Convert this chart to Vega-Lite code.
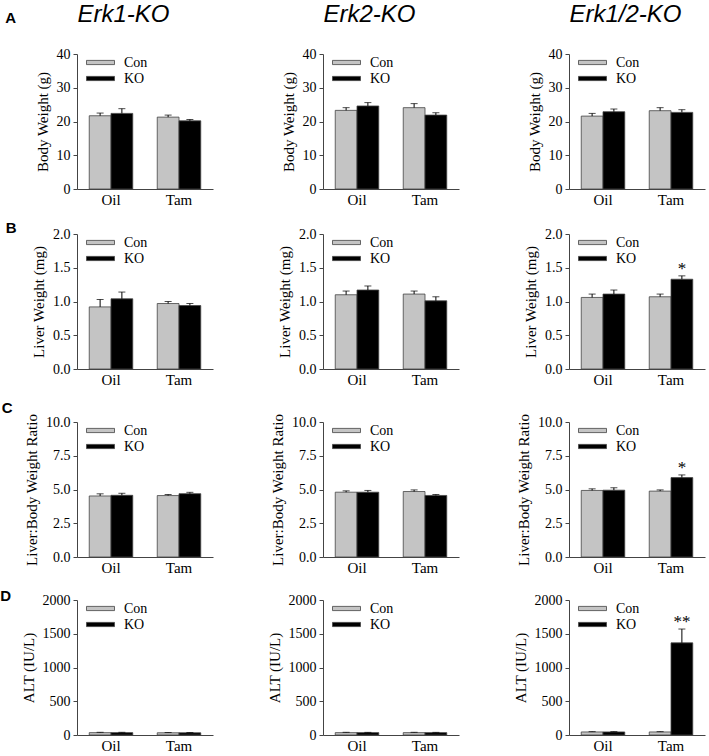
{
  "$schema": "https://vega.github.io/schema/vega-lite/v6.json",
  "padding": {"left": 0, "top": 2, "right": 2, "bottom": 0},
  "background": "white",
  "datasets": {
    "d": [
      {"p": "a1", "t": "Oil", "g": "Con", "v": 21.7, "u": 22.5, "s": ""},
      {"p": "a1", "t": "Oil", "g": "KO", "v": 22.4, "u": 23.8, "s": ""},
      {"p": "a1", "t": "Tam", "g": "Con", "v": 21.3, "u": 21.9, "s": ""},
      {"p": "a1", "t": "Tam", "g": "KO", "v": 20.2, "u": 20.6, "s": ""},
      {"p": "a2", "t": "Oil", "g": "Con", "v": 23.3, "u": 24.1, "s": ""},
      {"p": "a2", "t": "Oil", "g": "KO", "v": 24.6, "u": 25.6, "s": ""},
      {"p": "a2", "t": "Tam", "g": "Con", "v": 24.1, "u": 25.3, "s": ""},
      {"p": "a2", "t": "Tam", "g": "KO", "v": 21.9, "u": 22.6, "s": ""},
      {"p": "a3", "t": "Oil", "g": "Con", "v": 21.6, "u": 22.4, "s": ""},
      {"p": "a3", "t": "Oil", "g": "KO", "v": 22.9, "u": 23.7, "s": ""},
      {"p": "a3", "t": "Tam", "g": "Con", "v": 23.2, "u": 24.1, "s": ""},
      {"p": "a3", "t": "Tam", "g": "KO", "v": 22.7, "u": 23.5, "s": ""},
      {"p": "b1", "t": "Oil", "g": "Con", "v": 0.92, "u": 1.03, "s": ""},
      {"p": "b1", "t": "Oil", "g": "KO", "v": 1.04, "u": 1.14, "s": ""},
      {"p": "b1", "t": "Tam", "g": "Con", "v": 0.97, "u": 1.0, "s": ""},
      {"p": "b1", "t": "Tam", "g": "KO", "v": 0.94, "u": 0.97, "s": ""},
      {"p": "b2", "t": "Oil", "g": "Con", "v": 1.1, "u": 1.155, "s": ""},
      {"p": "b2", "t": "Oil", "g": "KO", "v": 1.17, "u": 1.23, "s": ""},
      {"p": "b2", "t": "Tam", "g": "Con", "v": 1.11, "u": 1.155, "s": ""},
      {"p": "b2", "t": "Tam", "g": "KO", "v": 1.01, "u": 1.07, "s": ""},
      {"p": "b3", "t": "Oil", "g": "Con", "v": 1.06, "u": 1.11, "s": ""},
      {"p": "b3", "t": "Oil", "g": "KO", "v": 1.11, "u": 1.17, "s": ""},
      {"p": "b3", "t": "Tam", "g": "Con", "v": 1.07, "u": 1.11, "s": ""},
      {"p": "b3", "t": "Tam", "g": "KO", "v": 1.33, "u": 1.38, "s": "*"},
      {"p": "c1", "t": "Oil", "g": "Con", "v": 4.52, "u": 4.68, "s": ""},
      {"p": "c1", "t": "Oil", "g": "KO", "v": 4.57, "u": 4.72, "s": ""},
      {"p": "c1", "t": "Tam", "g": "Con", "v": 4.55, "u": 4.63, "s": ""},
      {"p": "c1", "t": "Tam", "g": "KO", "v": 4.69, "u": 4.79, "s": ""},
      {"p": "c2", "t": "Oil", "g": "Con", "v": 4.8, "u": 4.9, "s": ""},
      {"p": "c2", "t": "Oil", "g": "KO", "v": 4.8, "u": 4.93, "s": ""},
      {"p": "c2", "t": "Tam", "g": "Con", "v": 4.85, "u": 4.97, "s": ""},
      {"p": "c2", "t": "Tam", "g": "KO", "v": 4.56, "u": 4.63, "s": ""},
      {"p": "c3", "t": "Oil", "g": "Con", "v": 4.93, "u": 5.05, "s": ""},
      {"p": "c3", "t": "Oil", "g": "KO", "v": 4.95, "u": 5.13, "s": ""},
      {"p": "c3", "t": "Tam", "g": "Con", "v": 4.88, "u": 4.97, "s": ""},
      {"p": "c3", "t": "Tam", "g": "KO", "v": 5.88, "u": 6.08, "s": "*"},
      {"p": "d1", "t": "Oil", "g": "Con", "v": 35, "u": 40, "s": ""},
      {"p": "d1", "t": "Oil", "g": "KO", "v": 35, "u": 40, "s": ""},
      {"p": "d1", "t": "Tam", "g": "Con", "v": 33, "u": 37, "s": ""},
      {"p": "d1", "t": "Tam", "g": "KO", "v": 33, "u": 37, "s": ""},
      {"p": "d2", "t": "Oil", "g": "Con", "v": 35, "u": 40, "s": ""},
      {"p": "d2", "t": "Oil", "g": "KO", "v": 35, "u": 39, "s": ""},
      {"p": "d2", "t": "Tam", "g": "Con", "v": 35, "u": 40, "s": ""},
      {"p": "d2", "t": "Tam", "g": "KO", "v": 35, "u": 39, "s": ""},
      {"p": "d3", "t": "Oil", "g": "Con", "v": 45, "u": 50, "s": ""},
      {"p": "d3", "t": "Oil", "g": "KO", "v": 45, "u": 50, "s": ""},
      {"p": "d3", "t": "Tam", "g": "Con", "v": 45, "u": 50, "s": ""},
      {"p": "d3", "t": "Tam", "g": "KO", "v": 1365, "u": 1570, "s": "**"}
    ]
  },
  "data": {"name": "d"},
  "columns": 3,
  "spacing": {"row": 14, "column": 54},
  "resolve": {"scale": {"color": "independent"}, "legend": {"color": "independent"}},
  "concat": [
    {
      "width": 136, "height": 135,
      "title": {"text": "A", "dy": -43, "dx": -9},
      "transform": [{"filter": {"field": "p", "equal": "a1"}}],
      "layer": [
        {"mark": "bar", "encoding": {
          "x": {"field": "t", "type": "nominal", "sort": ["Oil", "Tam"], "scale": {"paddingInner": 0.36, "paddingOuter": 0.18}, "axis": {"orient": "bottom", "title": null}},
          "xOffset": {"field": "g", "type": "nominal", "sort": ["Con", "KO"]},
          "y": {"field": "v", "type": "quantitative", "scale": {"domain": [0, 40], "nice": false}, "axis": {"values": [0, 10, 20, 30, 40], "labelOverlap": false, "title": "Body Weight (g)"}},
          "color": {"field": "g", "type": "nominal", "scale": {"domain": ["Con", "KO"], "range": ["#c4c4c4", "#000000"]}, "legend": {"orient": "none", "legendX": 16, "legendY": 1}}}},
        {"mark": "rule", "encoding": {
          "x": {"field": "t", "type": "nominal", "sort": ["Oil", "Tam"], "axis": null},
          "xOffset": {"field": "g", "type": "nominal", "sort": ["Con", "KO"]},
          "y": {"field": "v", "type": "quantitative", "axis": {"values": [0, 10, 20, 30, 40], "labelOverlap": false, "title": "Body Weight (g)"}}, "y2": {"field": "u"}}},
        {"mark": "tick", "encoding": {
          "x": {"field": "t", "type": "nominal", "sort": ["Oil", "Tam"], "axis": null},
          "xOffset": {"field": "g", "type": "nominal", "sort": ["Con", "KO"]},
          "y": {"field": "u", "type": "quantitative", "axis": {"values": [0, 10, 20, 30, 40], "labelOverlap": false, "title": "Body Weight (g)"}}}},
        {"mark": "text", "encoding": {
          "x": {"field": "t", "type": "nominal", "sort": ["Oil", "Tam"], "axis": {"orient": "top", "title": "Erk1-KO", "labels": false, "ticks": false, "domain": false, "titleFont": "Liberation Sans", "titleFontSize": 24, "titleFontStyle": "italic", "titlePadding": 28, "titleAnchor": "start", "titleAlign": "left"}},
          "xOffset": {"field": "g", "type": "nominal", "sort": ["Con", "KO"]},
          "y": {"field": "u", "type": "quantitative", "axis": {"values": [0, 10, 20, 30, 40], "labelOverlap": false, "title": "Body Weight (g)"}}, "text": {"field": "s"}}}
      ]
    },
    {
      "width": 136, "height": 135,
      "transform": [{"filter": {"field": "p", "equal": "a2"}}],
      "layer": [
        {"mark": "bar", "encoding": {
          "x": {"field": "t", "type": "nominal", "sort": ["Oil", "Tam"], "scale": {"paddingInner": 0.36, "paddingOuter": 0.18}, "axis": {"orient": "bottom", "title": null}},
          "xOffset": {"field": "g", "type": "nominal", "sort": ["Con", "KO"]},
          "y": {"field": "v", "type": "quantitative", "scale": {"domain": [0, 40], "nice": false}, "axis": {"values": [0, 10, 20, 30, 40], "labelOverlap": false, "title": "Body Weight (g)"}},
          "color": {"field": "g", "type": "nominal", "scale": {"domain": ["Con", "KO"], "range": ["#c4c4c4", "#000000"]}, "legend": {"orient": "none", "legendX": 16, "legendY": 1}}}},
        {"mark": "rule", "encoding": {
          "x": {"field": "t", "type": "nominal", "sort": ["Oil", "Tam"], "axis": null},
          "xOffset": {"field": "g", "type": "nominal", "sort": ["Con", "KO"]},
          "y": {"field": "v", "type": "quantitative", "axis": {"values": [0, 10, 20, 30, 40], "labelOverlap": false, "title": "Body Weight (g)"}}, "y2": {"field": "u"}}},
        {"mark": "tick", "encoding": {
          "x": {"field": "t", "type": "nominal", "sort": ["Oil", "Tam"], "axis": null},
          "xOffset": {"field": "g", "type": "nominal", "sort": ["Con", "KO"]},
          "y": {"field": "u", "type": "quantitative", "axis": {"values": [0, 10, 20, 30, 40], "labelOverlap": false, "title": "Body Weight (g)"}}}},
        {"mark": "text", "encoding": {
          "x": {"field": "t", "type": "nominal", "sort": ["Oil", "Tam"], "axis": {"orient": "top", "title": "Erk2-KO", "labels": false, "ticks": false, "domain": false, "titleFont": "Liberation Sans", "titleFontSize": 24, "titleFontStyle": "italic", "titlePadding": 28, "titleAnchor": "start", "titleAlign": "left"}},
          "xOffset": {"field": "g", "type": "nominal", "sort": ["Con", "KO"]},
          "y": {"field": "u", "type": "quantitative", "axis": {"values": [0, 10, 20, 30, 40], "labelOverlap": false, "title": "Body Weight (g)"}}, "text": {"field": "s"}}}
      ]
    },
    {
      "width": 136, "height": 135,
      "transform": [{"filter": {"field": "p", "equal": "a3"}}],
      "layer": [
        {"mark": "bar", "encoding": {
          "x": {"field": "t", "type": "nominal", "sort": ["Oil", "Tam"], "scale": {"paddingInner": 0.36, "paddingOuter": 0.18}, "axis": {"orient": "bottom", "title": null}},
          "xOffset": {"field": "g", "type": "nominal", "sort": ["Con", "KO"]},
          "y": {"field": "v", "type": "quantitative", "scale": {"domain": [0, 40], "nice": false}, "axis": {"values": [0, 10, 20, 30, 40], "labelOverlap": false, "title": "Body Weight (g)"}},
          "color": {"field": "g", "type": "nominal", "scale": {"domain": ["Con", "KO"], "range": ["#c4c4c4", "#000000"]}, "legend": {"orient": "none", "legendX": 16, "legendY": 1}}}},
        {"mark": "rule", "encoding": {
          "x": {"field": "t", "type": "nominal", "sort": ["Oil", "Tam"], "axis": null},
          "xOffset": {"field": "g", "type": "nominal", "sort": ["Con", "KO"]},
          "y": {"field": "v", "type": "quantitative", "axis": {"values": [0, 10, 20, 30, 40], "labelOverlap": false, "title": "Body Weight (g)"}}, "y2": {"field": "u"}}},
        {"mark": "tick", "encoding": {
          "x": {"field": "t", "type": "nominal", "sort": ["Oil", "Tam"], "axis": null},
          "xOffset": {"field": "g", "type": "nominal", "sort": ["Con", "KO"]},
          "y": {"field": "u", "type": "quantitative", "axis": {"values": [0, 10, 20, 30, 40], "labelOverlap": false, "title": "Body Weight (g)"}}}},
        {"mark": "text", "encoding": {
          "x": {"field": "t", "type": "nominal", "sort": ["Oil", "Tam"], "axis": {"orient": "top", "title": "Erk1/2-KO", "labels": false, "ticks": false, "domain": false, "titleFont": "Liberation Sans", "titleFontSize": 24, "titleFontStyle": "italic", "titlePadding": 28, "titleAnchor": "start", "titleAlign": "left"}},
          "xOffset": {"field": "g", "type": "nominal", "sort": ["Con", "KO"]},
          "y": {"field": "u", "type": "quantitative", "axis": {"values": [0, 10, 20, 30, 40], "labelOverlap": false, "title": "Body Weight (g)"}}, "text": {"field": "s"}}}
      ]
    },
    {
      "width": 136, "height": 135,
      "title": {"text": "B", "dy": -13, "dx": -5},
      "transform": [{"filter": {"field": "p", "equal": "b1"}}],
      "layer": [
        {"mark": "bar", "encoding": {
          "x": {"field": "t", "type": "nominal", "sort": ["Oil", "Tam"], "scale": {"paddingInner": 0.36, "paddingOuter": 0.18}, "axis": {"title": null}},
          "xOffset": {"field": "g", "type": "nominal", "sort": ["Con", "KO"]},
          "y": {"field": "v", "type": "quantitative", "scale": {"domain": [0, 2], "nice": false}, "axis": {"values": [0, 0.5, 1, 1.5, 2], "format": ".1f", "labelOverlap": false, "title": "Liver Weight (mg)"}},
          "color": {"field": "g", "type": "nominal", "scale": {"domain": ["Con", "KO"], "range": ["#c4c4c4", "#000000"]}, "legend": {"orient": "none", "legendX": 16, "legendY": 1}}}},
        {"mark": "rule", "encoding": {
          "x": {"field": "t", "type": "nominal", "sort": ["Oil", "Tam"], "axis": {"title": null}},
          "xOffset": {"field": "g", "type": "nominal", "sort": ["Con", "KO"]},
          "y": {"field": "v", "type": "quantitative", "axis": {"values": [0, 0.5, 1, 1.5, 2], "format": ".1f", "labelOverlap": false, "title": "Liver Weight (mg)"}}, "y2": {"field": "u"}}},
        {"mark": "tick", "encoding": {
          "x": {"field": "t", "type": "nominal", "sort": ["Oil", "Tam"], "axis": {"title": null}},
          "xOffset": {"field": "g", "type": "nominal", "sort": ["Con", "KO"]},
          "y": {"field": "u", "type": "quantitative", "axis": {"values": [0, 0.5, 1, 1.5, 2], "format": ".1f", "labelOverlap": false, "title": "Liver Weight (mg)"}}}},
        {"mark": "text", "encoding": {
          "x": {"field": "t", "type": "nominal", "sort": ["Oil", "Tam"], "axis": {"title": null}},
          "xOffset": {"field": "g", "type": "nominal", "sort": ["Con", "KO"]},
          "y": {"field": "u", "type": "quantitative", "axis": {"values": [0, 0.5, 1, 1.5, 2], "format": ".1f", "labelOverlap": false, "title": "Liver Weight (mg)"}}, "text": {"field": "s"}}}
      ]
    },
    {
      "width": 136, "height": 135,
      "transform": [{"filter": {"field": "p", "equal": "b2"}}],
      "layer": [
        {"mark": "bar", "encoding": {
          "x": {"field": "t", "type": "nominal", "sort": ["Oil", "Tam"], "scale": {"paddingInner": 0.36, "paddingOuter": 0.18}, "axis": {"title": null}},
          "xOffset": {"field": "g", "type": "nominal", "sort": ["Con", "KO"]},
          "y": {"field": "v", "type": "quantitative", "scale": {"domain": [0, 2], "nice": false}, "axis": {"values": [0, 0.5, 1, 1.5, 2], "format": ".1f", "labelOverlap": false, "title": "Liver Weight (mg)"}},
          "color": {"field": "g", "type": "nominal", "scale": {"domain": ["Con", "KO"], "range": ["#c4c4c4", "#000000"]}, "legend": {"orient": "none", "legendX": 16, "legendY": 1}}}},
        {"mark": "rule", "encoding": {
          "x": {"field": "t", "type": "nominal", "sort": ["Oil", "Tam"], "axis": {"title": null}},
          "xOffset": {"field": "g", "type": "nominal", "sort": ["Con", "KO"]},
          "y": {"field": "v", "type": "quantitative", "axis": {"values": [0, 0.5, 1, 1.5, 2], "format": ".1f", "labelOverlap": false, "title": "Liver Weight (mg)"}}, "y2": {"field": "u"}}},
        {"mark": "tick", "encoding": {
          "x": {"field": "t", "type": "nominal", "sort": ["Oil", "Tam"], "axis": {"title": null}},
          "xOffset": {"field": "g", "type": "nominal", "sort": ["Con", "KO"]},
          "y": {"field": "u", "type": "quantitative", "axis": {"values": [0, 0.5, 1, 1.5, 2], "format": ".1f", "labelOverlap": false, "title": "Liver Weight (mg)"}}}},
        {"mark": "text", "encoding": {
          "x": {"field": "t", "type": "nominal", "sort": ["Oil", "Tam"], "axis": {"title": null}},
          "xOffset": {"field": "g", "type": "nominal", "sort": ["Con", "KO"]},
          "y": {"field": "u", "type": "quantitative", "axis": {"values": [0, 0.5, 1, 1.5, 2], "format": ".1f", "labelOverlap": false, "title": "Liver Weight (mg)"}}, "text": {"field": "s"}}}
      ]
    },
    {
      "width": 136, "height": 135,
      "transform": [{"filter": {"field": "p", "equal": "b3"}}],
      "layer": [
        {"mark": "bar", "encoding": {
          "x": {"field": "t", "type": "nominal", "sort": ["Oil", "Tam"], "scale": {"paddingInner": 0.36, "paddingOuter": 0.18}, "axis": {"title": null}},
          "xOffset": {"field": "g", "type": "nominal", "sort": ["Con", "KO"]},
          "y": {"field": "v", "type": "quantitative", "scale": {"domain": [0, 2], "nice": false}, "axis": {"values": [0, 0.5, 1, 1.5, 2], "format": ".1f", "labelOverlap": false, "title": "Liver Weight (mg)"}},
          "color": {"field": "g", "type": "nominal", "scale": {"domain": ["Con", "KO"], "range": ["#c4c4c4", "#000000"]}, "legend": {"orient": "none", "legendX": 16, "legendY": 1}}}},
        {"mark": "rule", "encoding": {
          "x": {"field": "t", "type": "nominal", "sort": ["Oil", "Tam"], "axis": {"title": null}},
          "xOffset": {"field": "g", "type": "nominal", "sort": ["Con", "KO"]},
          "y": {"field": "v", "type": "quantitative", "axis": {"values": [0, 0.5, 1, 1.5, 2], "format": ".1f", "labelOverlap": false, "title": "Liver Weight (mg)"}}, "y2": {"field": "u"}}},
        {"mark": "tick", "encoding": {
          "x": {"field": "t", "type": "nominal", "sort": ["Oil", "Tam"], "axis": {"title": null}},
          "xOffset": {"field": "g", "type": "nominal", "sort": ["Con", "KO"]},
          "y": {"field": "u", "type": "quantitative", "axis": {"values": [0, 0.5, 1, 1.5, 2], "format": ".1f", "labelOverlap": false, "title": "Liver Weight (mg)"}}}},
        {"mark": "text", "encoding": {
          "x": {"field": "t", "type": "nominal", "sort": ["Oil", "Tam"], "axis": {"title": null}},
          "xOffset": {"field": "g", "type": "nominal", "sort": ["Con", "KO"]},
          "y": {"field": "u", "type": "quantitative", "axis": {"values": [0, 0.5, 1, 1.5, 2], "format": ".1f", "labelOverlap": false, "title": "Liver Weight (mg)"}}, "text": {"field": "s"}}}
      ]
    },
    {
      "width": 136, "height": 135,
      "title": {"text": "C", "dy": -21, "dx": -2},
      "transform": [{"filter": {"field": "p", "equal": "c1"}}],
      "layer": [
        {"mark": "bar", "encoding": {
          "x": {"field": "t", "type": "nominal", "sort": ["Oil", "Tam"], "scale": {"paddingInner": 0.36, "paddingOuter": 0.18}, "axis": {"title": null}},
          "xOffset": {"field": "g", "type": "nominal", "sort": ["Con", "KO"]},
          "y": {"field": "v", "type": "quantitative", "scale": {"domain": [0, 10], "nice": false}, "axis": {"values": [0, 2.5, 5, 7.5, 10], "format": ".1f", "labelOverlap": false, "title": "Liver:Body Weight Ratio"}},
          "color": {"field": "g", "type": "nominal", "scale": {"domain": ["Con", "KO"], "range": ["#c4c4c4", "#000000"]}, "legend": {"orient": "none", "legendX": 16, "legendY": 1}}}},
        {"mark": "rule", "encoding": {
          "x": {"field": "t", "type": "nominal", "sort": ["Oil", "Tam"], "axis": {"title": null}},
          "xOffset": {"field": "g", "type": "nominal", "sort": ["Con", "KO"]},
          "y": {"field": "v", "type": "quantitative", "axis": {"values": [0, 2.5, 5, 7.5, 10], "format": ".1f", "labelOverlap": false, "title": "Liver:Body Weight Ratio"}}, "y2": {"field": "u"}}},
        {"mark": "tick", "encoding": {
          "x": {"field": "t", "type": "nominal", "sort": ["Oil", "Tam"], "axis": {"title": null}},
          "xOffset": {"field": "g", "type": "nominal", "sort": ["Con", "KO"]},
          "y": {"field": "u", "type": "quantitative", "axis": {"values": [0, 2.5, 5, 7.5, 10], "format": ".1f", "labelOverlap": false, "title": "Liver:Body Weight Ratio"}}}},
        {"mark": "text", "encoding": {
          "x": {"field": "t", "type": "nominal", "sort": ["Oil", "Tam"], "axis": {"title": null}},
          "xOffset": {"field": "g", "type": "nominal", "sort": ["Con", "KO"]},
          "y": {"field": "u", "type": "quantitative", "axis": {"values": [0, 2.5, 5, 7.5, 10], "format": ".1f", "labelOverlap": false, "title": "Liver:Body Weight Ratio"}}, "text": {"field": "s"}}}
      ]
    },
    {
      "width": 136, "height": 135,
      "transform": [{"filter": {"field": "p", "equal": "c2"}}],
      "layer": [
        {"mark": "bar", "encoding": {
          "x": {"field": "t", "type": "nominal", "sort": ["Oil", "Tam"], "scale": {"paddingInner": 0.36, "paddingOuter": 0.18}, "axis": {"title": null}},
          "xOffset": {"field": "g", "type": "nominal", "sort": ["Con", "KO"]},
          "y": {"field": "v", "type": "quantitative", "scale": {"domain": [0, 10], "nice": false}, "axis": {"values": [0, 2.5, 5, 7.5, 10], "format": ".1f", "labelOverlap": false, "title": "Liver:Body Weight Ratio"}},
          "color": {"field": "g", "type": "nominal", "scale": {"domain": ["Con", "KO"], "range": ["#c4c4c4", "#000000"]}, "legend": {"orient": "none", "legendX": 16, "legendY": 1}}}},
        {"mark": "rule", "encoding": {
          "x": {"field": "t", "type": "nominal", "sort": ["Oil", "Tam"], "axis": {"title": null}},
          "xOffset": {"field": "g", "type": "nominal", "sort": ["Con", "KO"]},
          "y": {"field": "v", "type": "quantitative", "axis": {"values": [0, 2.5, 5, 7.5, 10], "format": ".1f", "labelOverlap": false, "title": "Liver:Body Weight Ratio"}}, "y2": {"field": "u"}}},
        {"mark": "tick", "encoding": {
          "x": {"field": "t", "type": "nominal", "sort": ["Oil", "Tam"], "axis": {"title": null}},
          "xOffset": {"field": "g", "type": "nominal", "sort": ["Con", "KO"]},
          "y": {"field": "u", "type": "quantitative", "axis": {"values": [0, 2.5, 5, 7.5, 10], "format": ".1f", "labelOverlap": false, "title": "Liver:Body Weight Ratio"}}}},
        {"mark": "text", "encoding": {
          "x": {"field": "t", "type": "nominal", "sort": ["Oil", "Tam"], "axis": {"title": null}},
          "xOffset": {"field": "g", "type": "nominal", "sort": ["Con", "KO"]},
          "y": {"field": "u", "type": "quantitative", "axis": {"values": [0, 2.5, 5, 7.5, 10], "format": ".1f", "labelOverlap": false, "title": "Liver:Body Weight Ratio"}}, "text": {"field": "s"}}}
      ]
    },
    {
      "width": 136, "height": 135,
      "transform": [{"filter": {"field": "p", "equal": "c3"}}],
      "layer": [
        {"mark": "bar", "encoding": {
          "x": {"field": "t", "type": "nominal", "sort": ["Oil", "Tam"], "scale": {"paddingInner": 0.36, "paddingOuter": 0.18}, "axis": {"title": null}},
          "xOffset": {"field": "g", "type": "nominal", "sort": ["Con", "KO"]},
          "y": {"field": "v", "type": "quantitative", "scale": {"domain": [0, 10], "nice": false}, "axis": {"values": [0, 2.5, 5, 7.5, 10], "format": ".1f", "labelOverlap": false, "title": "Liver:Body Weight Ratio"}},
          "color": {"field": "g", "type": "nominal", "scale": {"domain": ["Con", "KO"], "range": ["#c4c4c4", "#000000"]}, "legend": {"orient": "none", "legendX": 16, "legendY": 1}}}},
        {"mark": "rule", "encoding": {
          "x": {"field": "t", "type": "nominal", "sort": ["Oil", "Tam"], "axis": {"title": null}},
          "xOffset": {"field": "g", "type": "nominal", "sort": ["Con", "KO"]},
          "y": {"field": "v", "type": "quantitative", "axis": {"values": [0, 2.5, 5, 7.5, 10], "format": ".1f", "labelOverlap": false, "title": "Liver:Body Weight Ratio"}}, "y2": {"field": "u"}}},
        {"mark": "tick", "encoding": {
          "x": {"field": "t", "type": "nominal", "sort": ["Oil", "Tam"], "axis": {"title": null}},
          "xOffset": {"field": "g", "type": "nominal", "sort": ["Con", "KO"]},
          "y": {"field": "u", "type": "quantitative", "axis": {"values": [0, 2.5, 5, 7.5, 10], "format": ".1f", "labelOverlap": false, "title": "Liver:Body Weight Ratio"}}}},
        {"mark": "text", "encoding": {
          "x": {"field": "t", "type": "nominal", "sort": ["Oil", "Tam"], "axis": {"title": null}},
          "xOffset": {"field": "g", "type": "nominal", "sort": ["Con", "KO"]},
          "y": {"field": "u", "type": "quantitative", "axis": {"values": [0, 2.5, 5, 7.5, 10], "format": ".1f", "labelOverlap": false, "title": "Liver:Body Weight Ratio"}}, "text": {"field": "s"}}}
      ]
    },
    {
      "width": 136, "height": 135,
      "title": {"text": "D", "dy": -11},
      "transform": [{"filter": {"field": "p", "equal": "d1"}}],
      "layer": [
        {"mark": "bar", "encoding": {
          "x": {"field": "t", "type": "nominal", "sort": ["Oil", "Tam"], "scale": {"paddingInner": 0.36, "paddingOuter": 0.18}, "axis": {"title": null}},
          "xOffset": {"field": "g", "type": "nominal", "sort": ["Con", "KO"]},
          "y": {"field": "v", "type": "quantitative", "scale": {"domain": [0, 2000], "nice": false}, "axis": {"values": [0, 500, 1000, 1500, 2000], "format": "d", "labelOverlap": false, "title": "ALT (IU/L)"}},
          "color": {"field": "g", "type": "nominal", "scale": {"domain": ["Con", "KO"], "range": ["#c4c4c4", "#000000"]}, "legend": {"orient": "none", "legendX": 16, "legendY": 1}}}},
        {"mark": "rule", "encoding": {
          "x": {"field": "t", "type": "nominal", "sort": ["Oil", "Tam"], "axis": {"title": null}},
          "xOffset": {"field": "g", "type": "nominal", "sort": ["Con", "KO"]},
          "y": {"field": "v", "type": "quantitative", "axis": {"values": [0, 500, 1000, 1500, 2000], "format": "d", "labelOverlap": false, "title": "ALT (IU/L)"}}, "y2": {"field": "u"}}},
        {"mark": "tick", "encoding": {
          "x": {"field": "t", "type": "nominal", "sort": ["Oil", "Tam"], "axis": {"title": null}},
          "xOffset": {"field": "g", "type": "nominal", "sort": ["Con", "KO"]},
          "y": {"field": "u", "type": "quantitative", "axis": {"values": [0, 500, 1000, 1500, 2000], "format": "d", "labelOverlap": false, "title": "ALT (IU/L)"}}}},
        {"mark": "text", "encoding": {
          "x": {"field": "t", "type": "nominal", "sort": ["Oil", "Tam"], "axis": {"title": null}},
          "xOffset": {"field": "g", "type": "nominal", "sort": ["Con", "KO"]},
          "y": {"field": "u", "type": "quantitative", "axis": {"values": [0, 500, 1000, 1500, 2000], "format": "d", "labelOverlap": false, "title": "ALT (IU/L)"}}, "text": {"field": "s"}}}
      ]
    },
    {
      "width": 136, "height": 135,
      "transform": [{"filter": {"field": "p", "equal": "d2"}}],
      "layer": [
        {"mark": "bar", "encoding": {
          "x": {"field": "t", "type": "nominal", "sort": ["Oil", "Tam"], "scale": {"paddingInner": 0.36, "paddingOuter": 0.18}, "axis": {"title": null}},
          "xOffset": {"field": "g", "type": "nominal", "sort": ["Con", "KO"]},
          "y": {"field": "v", "type": "quantitative", "scale": {"domain": [0, 2000], "nice": false}, "axis": {"values": [0, 500, 1000, 1500, 2000], "format": "d", "labelOverlap": false, "title": "ALT (IU/L)"}},
          "color": {"field": "g", "type": "nominal", "scale": {"domain": ["Con", "KO"], "range": ["#c4c4c4", "#000000"]}, "legend": {"orient": "none", "legendX": 16, "legendY": 1}}}},
        {"mark": "rule", "encoding": {
          "x": {"field": "t", "type": "nominal", "sort": ["Oil", "Tam"], "axis": {"title": null}},
          "xOffset": {"field": "g", "type": "nominal", "sort": ["Con", "KO"]},
          "y": {"field": "v", "type": "quantitative", "axis": {"values": [0, 500, 1000, 1500, 2000], "format": "d", "labelOverlap": false, "title": "ALT (IU/L)"}}, "y2": {"field": "u"}}},
        {"mark": "tick", "encoding": {
          "x": {"field": "t", "type": "nominal", "sort": ["Oil", "Tam"], "axis": {"title": null}},
          "xOffset": {"field": "g", "type": "nominal", "sort": ["Con", "KO"]},
          "y": {"field": "u", "type": "quantitative", "axis": {"values": [0, 500, 1000, 1500, 2000], "format": "d", "labelOverlap": false, "title": "ALT (IU/L)"}}}},
        {"mark": "text", "encoding": {
          "x": {"field": "t", "type": "nominal", "sort": ["Oil", "Tam"], "axis": {"title": null}},
          "xOffset": {"field": "g", "type": "nominal", "sort": ["Con", "KO"]},
          "y": {"field": "u", "type": "quantitative", "axis": {"values": [0, 500, 1000, 1500, 2000], "format": "d", "labelOverlap": false, "title": "ALT (IU/L)"}}, "text": {"field": "s"}}}
      ]
    },
    {
      "width": 136, "height": 135,
      "transform": [{"filter": {"field": "p", "equal": "d3"}}],
      "layer": [
        {"mark": "bar", "encoding": {
          "x": {"field": "t", "type": "nominal", "sort": ["Oil", "Tam"], "scale": {"paddingInner": 0.36, "paddingOuter": 0.18}, "axis": {"title": null}},
          "xOffset": {"field": "g", "type": "nominal", "sort": ["Con", "KO"]},
          "y": {"field": "v", "type": "quantitative", "scale": {"domain": [0, 2000], "nice": false}, "axis": {"values": [0, 500, 1000, 1500, 2000], "format": "d", "labelOverlap": false, "title": "ALT (IU/L)"}},
          "color": {"field": "g", "type": "nominal", "scale": {"domain": ["Con", "KO"], "range": ["#c4c4c4", "#000000"]}, "legend": {"orient": "none", "legendX": 16, "legendY": 1}}}},
        {"mark": "rule", "encoding": {
          "x": {"field": "t", "type": "nominal", "sort": ["Oil", "Tam"], "axis": {"title": null}},
          "xOffset": {"field": "g", "type": "nominal", "sort": ["Con", "KO"]},
          "y": {"field": "v", "type": "quantitative", "axis": {"values": [0, 500, 1000, 1500, 2000], "format": "d", "labelOverlap": false, "title": "ALT (IU/L)"}}, "y2": {"field": "u"}}},
        {"mark": "tick", "encoding": {
          "x": {"field": "t", "type": "nominal", "sort": ["Oil", "Tam"], "axis": {"title": null}},
          "xOffset": {"field": "g", "type": "nominal", "sort": ["Con", "KO"]},
          "y": {"field": "u", "type": "quantitative", "axis": {"values": [0, 500, 1000, 1500, 2000], "format": "d", "labelOverlap": false, "title": "ALT (IU/L)"}}}},
        {"mark": "text", "encoding": {
          "x": {"field": "t", "type": "nominal", "sort": ["Oil", "Tam"], "axis": {"title": null}},
          "xOffset": {"field": "g", "type": "nominal", "sort": ["Con", "KO"]},
          "y": {"field": "u", "type": "quantitative", "axis": {"values": [0, 500, 1000, 1500, 2000], "format": "d", "labelOverlap": false, "title": "ALT (IU/L)"}}, "text": {"field": "s"}}}
      ]
    }
  ],
  "config": {
    "view": {"stroke": null},
    "font": "Liberation Serif",
    "axis": {"labelFont": "Liberation Serif", "titleFont": "Liberation Serif", "labelColor": "#000", "titleColor": "#000", "titleFontWeight": "normal", "grid": false, "domainColor": "#444", "tickColor": "#444", "labelFontSize": 14, "titleFontSize": 15, "labelOverlap": false},
    "axisX": {"labelAngle": 0, "ticks": false, "labelFontSize": 15, "labelPadding": 3},
    "axisY": {"tickSize": 4, "labelPadding": 3, "titlePadding": 6, "minExtent": 0, "labelOverlap": false},
    "bar": {"stroke": "#444", "strokeWidth": 0.8},
    "rule": {"color": "#000", "strokeWidth": 1},
    "tick": {"color": "#000", "thickness": 1, "size": 7},
    "text": {"font": "Liberation Serif", "fontSize": 17, "baseline": "alphabetic", "dy": -2, "color": "#000"},
    "legend": {"title": null, "symbolType": "M-2,-0.3H2V0.3H-2Z", "symbolSize": 196, "symbolStrokeColor": "#444", "symbolStrokeWidth": 1, "symbolOpacity": 1, "labelFont": "Liberation Serif", "labelFontSize": 14, "labelColor": "#000", "rowPadding": 1, "labelOffset": 16, "padding": 0},
    "title": {"orient": "left", "anchor": "end", "angle": 0, "align": "right", "baseline": "middle", "frame": "group", "font": "Liberation Sans", "fontSize": 15, "fontWeight": "bold", "color": "#000", "offset": -1}
  }
}
